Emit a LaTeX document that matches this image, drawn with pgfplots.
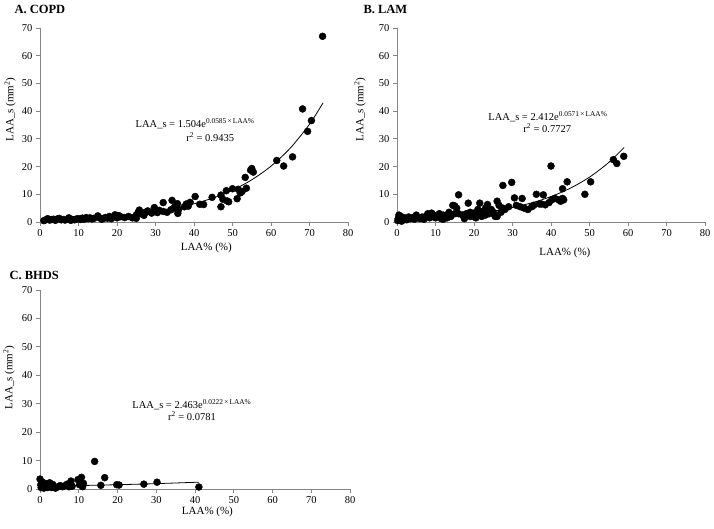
\documentclass[border=0pt]{standalone}
\usepackage{fontspec}
\setmainfont{Liberation Serif}
\usepackage{pgfplots}
\pgfplotsset{compat=1.18}
\definecolor{axisgray}{RGB}{134,134,134}
\pgfplotsset{panel/.style={
  scale only axis, width=308pt, height=194pt,
  xmin=0,xmax=80,ymin=0,ymax=70,
  xtick={0,10,...,80}, ytick={0,10,...,70},
  axis x line*=bottom, axis y line*=left,
  axis line style={draw=axisgray, line width=0.8pt, -},
  tick style={draw=axisgray, line width=0.8pt},
  tick align=outside, major tick length=4pt,
  tick label style={font=\fontsize{10.5}{12}\selectfont},
  /pgf/number format/assume math mode=true,
  xlabel={LAA\% (\%)}, ylabel={LAA\_s (mm\textsuperscript{2})},
  label style={font=\fontsize{11}{13}\selectfont},
  clip=false,
  anchor=origin,
}}
\pgfplotsset{dots/.style={only marks, mark=*, mark size=3.5pt, mark options={fill=black,draw=black}},
  trend/.style={no marks, black, line width=0.8pt, smooth}}
\tikzset{eq/.style={font=\fontsize{10.5}{12}\selectfont}}
\begin{document}
\begin{tikzpicture}
\path[use as bounding box] (0pt,0pt) rectangle (714pt,528pt);
% titles
\node[anchor=west,font=\fontsize{12.5}{14}\selectfont\bfseries] at (11pt,519pt) {A. COPD};
\node[anchor=west,font=\fontsize{12.5}{14}\selectfont\bfseries] at (360pt,519pt) {B. LAM};
\node[anchor=west,font=\fontsize{12.5}{14}\selectfont\bfseries] at (6pt,253pt) {C. BHDS};
% ---------------- A
\begin{axis}[panel, at={(40pt,306pt)},
  x label style={at={(axis description cs:0.54,0)},anchor=center,yshift=-26pt},
  y label style={at={(axis description cs:-0.097,0.58)},anchor=center}]
\addplot[dots] coordinates {
(1,0.5)(1.5,0.8)(2,1.2)(2.5,0.7)(3,0.9)(3.5,1.0)(4,0.6)(4.5,1.1)(5,1.3)(5.5,0.8)(6,0.9)(6.5,0.7)
(7.5,1.5)(8,0.6)(8.5,0.9)(9,0.8)(9.5,1.1)(10,1.2)(10.5,0.9)(11,1.4)(11.5,1.0)(12,1.6)(12.5,1.2)
(13,1.5)(13.5,1.1)(14,1.3)(15,2.2)(15.5,1.5)(16,1.0)(16.5,1.3)(17,1.6)(17.5,1.4)(18,2.0)(18.5,1.2)
(19,1.8)(19.5,2.6)(20,1.5)(20.5,2.3)(21,1.9)(22,1.6)(23,2.0)(24,1.5)(25,1.3)(25,2.5)(25.5,3.5)
(25.8,4.3)(26.5,2.8)(27,2.4)(27.5,3.6)(28,4.0)(29,3.2)(29.7,5.2)(30,3.8)(30.5,3.4)(31,4.2)(32,7.0)
(32,3.8)(33,3.5)(34,4.4)(34.3,7.8)(34.5,4.8)(35,5.5)(35.7,6.6)(35.8,3.1)(36,4.5)(37.5,5.5)(38,6.5)
(38.5,5.7)(39,7.1)(40.3,9.2)(41.5,6.4)(42.5,6.3)(44.7,8.9)(47,5.5)(47,9.7)(47.5,8.2)(48.4,11.3)
(48.6,7.6)(49,7.3)(50,12.0)(51.2,8.4)(51.5,11.8)(52,10.5)(52.5,11.0)(53.3,16.1)(53.6,12.2)
(54.7,18.7)(55,19.3)(55.4,18.0)(61.5,22.2)(63.3,20.2)(65.6,23.5)(68.2,40.8)(69.5,32.7)(70.5,36.6)(73.4,67.0)
};
\addplot[trend] coordinates {(1,0.74)(5,0.93)(10,1.23)(15,1.62)(20,2.15)(25,2.84)(30,3.76)(35,4.97)(40,6.58)(45,8.70)(50,11.51)(55,15.23)(60,20.15)(65,26.66)(70,35.28)(73.5,42.96)};
\node[eq] at (axis cs:40.3,35.6) {LAA\_s = 1.504e\textsuperscript{0.0585\,×\,LAA\%}};
\node[eq] at (axis cs:44.2,30.6) {r\textsuperscript{2} = 0.9435};
\end{axis}
% ---------------- B
\begin{axis}[panel, at={(397pt,306pt)},
  x label style={at={(axis description cs:0.545,0)},anchor=center,yshift=-31pt},
  y label style={at={(axis description cs:-0.12,0.58)},anchor=center}]
\addplot[dots] coordinates {
(0.2,0.5)(0.3,1.2)(0.5,2.5)(0.8,0.8)(1,2.0)(1.2,0.3)(1.5,1.0)(2,1.5)(2.5,0.8)(3,1.8)(3.5,1.2)(4,1.6)
(4.5,1.0)(5,2.5)(5.5,1.5)(6,1.2)(6.5,1.8)(7,1.0)(7.5,2.0)(8,3.0)(8.5,1.5)(9,3.2)(9.5,2.5)(10,1.5)
(10.5,2.0)(11,3.0)(11.5,1.2)(12,2.5)(12,1.0)(13,1.5)(13,2.5)(13.5,3.5)(14,2.0)(14.5,6.0)(15,3.0)
(15,5.8)(15.5,5.0)(16,9.8)(16,3.0)(17,2.5)(17.5,1.2)(18,3.0)(18.5,6.8)(19,2.0)(19,3.5)(20,3.2)
(20,2.0)(20.5,1.5)(21,3.0)(21,4.5)(21.5,6.8)(22,2.0)(22.5,4.0)(23,2.5)(23,5.0)(23.5,6.3)(24,3.0)
(24.5,4.5)(25,3.5)(25.5,2.0)(26,2.0)(26,7.5)(26.5,6.0)(27,3.5)(27.5,5.0)(27.5,13.2)(28,4.5)
(29,5.5)(29.8,14.3)(30.5,8.7)(31,6.0)(32,5.5)(32.5,8.5)(33,5.0)(34,4.5)(35,5.5)(35.5,6.0)
(36.2,10.0)(37,6.5)(37.5,6.5)(38,9.8)(38.5,6.2)(39.5,7.0)(40,20.2)(40.2,8.0)(41,8.5)(42,8.0)
(42.5,7.5)(43,8.5)(43,12.0)(43.3,8.0)(44.2,14.5)(48.8,10.0)(50.3,14.5)(56.2,22.5)(57.1,21.1)(58.9,23.7)
};
\addplot[trend] coordinates {(0,0.95)(5,1.26)(10,1.67)(15,2.22)(20,2.95)(25,3.92)(30,5.21)(35,6.91)(40,9.18)(45,12.19)(50,16.19)(55,21.49)(59,26.9)};
\node[eq] at (axis cs:39.2,37.9) {LAA\_s = 2.412e\textsuperscript{0.0571\,×\,LAA\%}};
\node[eq] at (axis cs:39,33.9) {r\textsuperscript{2} = 0.7727};
\end{axis}
% ---------------- C
\begin{axis}[panel, at={(40pt,39pt)}, width=310pt, height=199pt,
  x label style={at={(axis description cs:0.54,0)},anchor=center,yshift=-23pt},
  y label style={at={(axis description cs:-0.1,0.56)},anchor=center}]
\addplot[dots] coordinates {
(0,3.5)(0.2,1.5)(0.3,0.5)(0.5,2.5)(0.8,1.0)(1,0.3)(1.2,2.0)(1.5,1.2)(1.8,0.5)(2,1.8)(2.3,0.8)
(2.5,2.2)(2.8,1.3)(3,0.5)(3.3,1.6)(3.5,0.8)(4,0.3)(4.5,0.7)(5.2,1.2)(5.8,0.8)(6.5,1.2)(7,1.7)
(7.5,0.8)(8,2.8)(8.3,1.0)(9.8,3.3)(10.2,1.5)(10.7,4.1)(11,0.8)(11.2,2.0)(14.1,9.7)(15.7,1.3)
(16.7,4.0)(19.8,1.5)(20.4,1.4)(26.8,1.7)(30.2,2.4)(41,0.7)
};
\addplot[trend] coordinates {(0,0.97)(10,1.21)(20,1.51)(30,1.89)(41,2.40)};
\node[eq] at (axis cs:39.2,29.5) {LAA\_s = 2.463e\textsuperscript{0.0222\,×\,LAA\%}};
\node[eq] at (axis cs:39.2,25.8) {r\textsuperscript{2} = 0.0781};
\end{axis}
\end{tikzpicture}
\end{document}
